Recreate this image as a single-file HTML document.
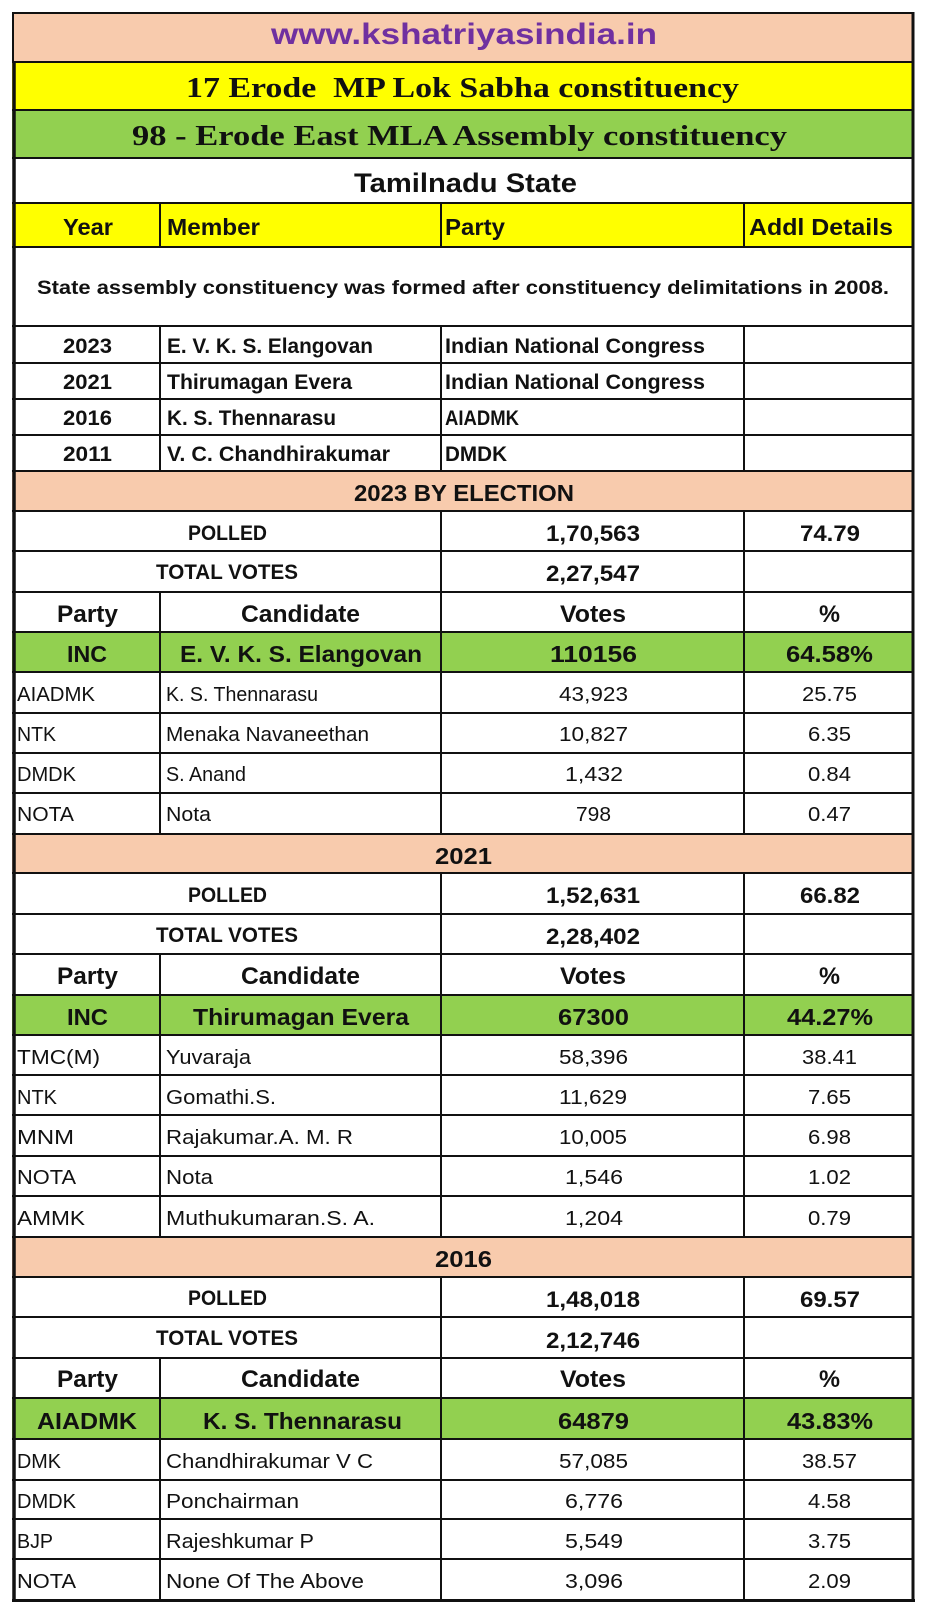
<!DOCTYPE html>
<html><head><meta charset="utf-8"><style>
html,body{margin:0;padding:0;background:#fff;}
svg{display:block;}
text{font-family:"Liberation Sans",Arial,sans-serif;fill:#111;}
.s{font-family:"Liberation Serif","Times New Roman",serif;font-weight:bold;}
.b{font-weight:bold;}
</style></head><body>
<svg width="928" height="1620" viewBox="0 0 928 1620" xmlns="http://www.w3.org/2000/svg">
<rect x="0" y="0" width="928" height="1620" fill="#fff"/>
<!-- fills -->
<rect x="12" y="13" width="901" height="49" fill="#F8CBAD"/>
<rect x="12" y="62" width="901" height="48" fill="#FFFF00"/>
<rect x="12" y="110" width="901" height="48" fill="#92D050"/>
<rect x="12" y="203" width="901" height="44" fill="#FFFF00"/>
<rect x="12" y="471" width="901" height="40" fill="#F8CBAD"/>
<rect x="12" y="632" width="901" height="40" fill="#92D050"/>
<rect x="12" y="834" width="901" height="39" fill="#F8CBAD"/>
<rect x="12" y="995" width="901" height="40" fill="#92D050"/>
<rect x="12" y="1237" width="901" height="40" fill="#F8CBAD"/>
<rect x="12" y="1398" width="901" height="41" fill="#92D050"/>

<!-- horizontal lines -->
<g stroke="#111" stroke-width="2">
<line x1="12" x2="914" y1="13" y2="13"/>
<line x1="12" x2="914" y1="62" y2="62"/>
<line x1="12" x2="914" y1="110" y2="110"/>
<line x1="12" x2="914" y1="158" y2="158"/>
<line x1="12" x2="914" y1="203" y2="203"/>
<line x1="12" x2="914" y1="247" y2="247"/>
<line x1="12" x2="914" y1="326" y2="326"/>
<line x1="12" x2="914" y1="363" y2="363"/>
<line x1="12" x2="914" y1="399" y2="399"/>
<line x1="12" x2="914" y1="435" y2="435"/>
<line x1="12" x2="914" y1="471" y2="471"/>
<line x1="12" x2="914" y1="511" y2="511"/>
<line x1="12" x2="914" y1="551" y2="551"/>
<line x1="12" x2="914" y1="592" y2="592"/>
<line x1="12" x2="914" y1="632" y2="632"/>
<line x1="12" x2="914" y1="672" y2="672"/>
<line x1="12" x2="914" y1="713" y2="713"/>
<line x1="12" x2="914" y1="753" y2="753"/>
<line x1="12" x2="914" y1="793" y2="793"/>
<line x1="12" x2="914" y1="834" y2="834"/>
<line x1="12" x2="914" y1="873" y2="873"/>
<line x1="12" x2="914" y1="914" y2="914"/>
<line x1="12" x2="914" y1="954" y2="954"/>
<line x1="12" x2="914" y1="995" y2="995"/>
<line x1="12" x2="914" y1="1035" y2="1035"/>
<line x1="12" x2="914" y1="1075" y2="1075"/>
<line x1="12" x2="914" y1="1115" y2="1115"/>
<line x1="12" x2="914" y1="1156" y2="1156"/>
<line x1="12" x2="914" y1="1196" y2="1196"/>
<line x1="12" x2="914" y1="1237" y2="1237"/>
<line x1="12" x2="914" y1="1277" y2="1277"/>
<line x1="12" x2="914" y1="1317" y2="1317"/>
<line x1="12" x2="914" y1="1358" y2="1358"/>
<line x1="12" x2="914" y1="1398" y2="1398"/>
<line x1="12" x2="914" y1="1439" y2="1439"/>
<line x1="12" x2="914" y1="1480" y2="1480"/>
<line x1="12" x2="914" y1="1519" y2="1519"/>
<line x1="12" x2="914" y1="1559" y2="1559"/>
</g>
<!-- vertical column lines -->
<g stroke="#111" stroke-width="2">
<line x1="160" x2="160" y1="203" y2="247"/><line x1="441" x2="441" y1="203" y2="247"/><line x1="744" x2="744" y1="203" y2="247"/>
<line x1="160" x2="160" y1="326" y2="471"/><line x1="441" x2="441" y1="326" y2="471"/><line x1="744" x2="744" y1="326" y2="471"/>
<line x1="441" x2="441" y1="511" y2="592"/><line x1="744" x2="744" y1="511" y2="592"/>
<line x1="160" x2="160" y1="592" y2="834"/><line x1="441" x2="441" y1="592" y2="834"/><line x1="744" x2="744" y1="592" y2="834"/>
<line x1="441" x2="441" y1="873" y2="954"/><line x1="744" x2="744" y1="873" y2="954"/>
<line x1="160" x2="160" y1="954" y2="1237"/><line x1="441" x2="441" y1="954" y2="1237"/><line x1="744" x2="744" y1="954" y2="1237"/>
<line x1="441" x2="441" y1="1277" y2="1358"/><line x1="744" x2="744" y1="1277" y2="1358"/>
<line x1="160" x2="160" y1="1358" y2="1601"/><line x1="441" x2="441" y1="1358" y2="1601"/><line x1="744" x2="744" y1="1358" y2="1601"/>
</g>
<!-- outer border -->
<line x1="13" x2="13" y1="12" y2="62" stroke="#111" stroke-width="2"/>
<line x1="14" x2="14" y1="62" y2="1602" stroke="#111" stroke-width="3.5"/>
<line x1="913" x2="913" y1="12" y2="1602" stroke="#111" stroke-width="3"/>
<line x1="12" x2="915" y1="1600.5" y2="1600.5" stroke="#111" stroke-width="3"/>

<!-- titles -->
<text x="271" y="44" font-size="30" class="b" style="fill:#7030A0" textLength="386" lengthAdjust="spacingAndGlyphs">www.kshatriyasindia.in</text>
<text x="186" y="97" font-size="29" class="s" textLength="553" lengthAdjust="spacingAndGlyphs" xml:space="preserve">17 Erode  MP Lok Sabha constituency</text>
<text x="132" y="145" font-size="29" class="s" textLength="655" lengthAdjust="spacingAndGlyphs">98 - Erode East MLA Assembly constituency</text>
<text x="354" y="192" font-size="27" class="b" textLength="223" lengthAdjust="spacingAndGlyphs">Tamilnadu State</text>

<g class="b" font-size="23">
<text x="63" y="235" textLength="50" lengthAdjust="spacingAndGlyphs">Year</text>
<text x="167" y="235" textLength="93" lengthAdjust="spacingAndGlyphs">Member</text>
<text x="445" y="235" textLength="60" lengthAdjust="spacingAndGlyphs">Party</text>
<text x="749" y="235" textLength="144" lengthAdjust="spacingAndGlyphs">Addl Details</text>
</g>

<text x="37" y="294" font-size="19" class="b" textLength="852" lengthAdjust="spacingAndGlyphs">State assembly constituency was formed after constituency delimitations in 2008.</text>

<g class="b" font-size="21">
<text x="63" y="353" textLength="49" lengthAdjust="spacingAndGlyphs">2023</text>
<text x="167" y="353" textLength="206" lengthAdjust="spacingAndGlyphs">E. V. K. S. Elangovan</text>
<text x="445" y="353" textLength="260" lengthAdjust="spacingAndGlyphs">Indian National Congress</text>
<text x="63" y="389" textLength="49" lengthAdjust="spacingAndGlyphs">2021</text>
<text x="167" y="389" textLength="185" lengthAdjust="spacingAndGlyphs">Thirumagan Evera</text>
<text x="445" y="389" textLength="260" lengthAdjust="spacingAndGlyphs">Indian National Congress</text>
<text x="63" y="425" textLength="49" lengthAdjust="spacingAndGlyphs">2016</text>
<text x="167" y="425" textLength="169" lengthAdjust="spacingAndGlyphs">K. S. Thennarasu</text>
<text x="445" y="425" textLength="74" lengthAdjust="spacingAndGlyphs">AIADMK</text>
<text x="63" y="461" textLength="49" lengthAdjust="spacingAndGlyphs">2011</text>
<text x="167" y="461" textLength="223" lengthAdjust="spacingAndGlyphs">V. C. Chandhirakumar</text>
<text x="445" y="461" textLength="62" lengthAdjust="spacingAndGlyphs">DMDK</text>
</g>

<!-- 2023 section -->
<g class="b" font-size="23">
<text x="354" y="501" textLength="220" lengthAdjust="spacingAndGlyphs">2023 BY ELECTION</text>
</g>
<g class="b" font-size="21">
<text x="188" y="540" textLength="79" lengthAdjust="spacingAndGlyphs">POLLED</text>
<text x="156" y="579" textLength="142" lengthAdjust="spacingAndGlyphs">TOTAL VOTES</text>
</g>
<g class="b" font-size="22">
<text x="546" y="541" textLength="94" lengthAdjust="spacingAndGlyphs">1,70,563</text>
<text x="800" y="541" textLength="60" lengthAdjust="spacingAndGlyphs">74.79</text>
<text x="546" y="581" textLength="94" lengthAdjust="spacingAndGlyphs">2,27,547</text>
</g>
<g class="b" font-size="24">
<text x="57" y="622" textLength="61" lengthAdjust="spacingAndGlyphs">Party</text>
<text x="241" y="622" textLength="119" lengthAdjust="spacingAndGlyphs">Candidate</text>
<text x="560" y="622" textLength="66" lengthAdjust="spacingAndGlyphs">Votes</text>
<text x="819" y="622" textLength="21" lengthAdjust="spacingAndGlyphs">%</text>
</g>
<g class="b" font-size="23">
<text x="67" y="662" textLength="40" lengthAdjust="spacingAndGlyphs">INC</text>
<text x="180" y="662" textLength="242" lengthAdjust="spacingAndGlyphs">E. V. K. S. Elangovan</text>
<text x="550" y="662" textLength="87" lengthAdjust="spacingAndGlyphs">110156</text>
<text x="786" y="662" textLength="87" lengthAdjust="spacingAndGlyphs">64.58%</text>
</g>
<g font-size="20">
<text x="17" y="701" textLength="78" lengthAdjust="spacingAndGlyphs">AIADMK</text>
<text x="166" y="701" textLength="152" lengthAdjust="spacingAndGlyphs">K. S. Thennarasu</text>
<text x="559" y="701" textLength="69" lengthAdjust="spacingAndGlyphs">43,923</text>
<text x="802" y="701" textLength="55" lengthAdjust="spacingAndGlyphs">25.75</text>
<text x="17" y="741" textLength="39" lengthAdjust="spacingAndGlyphs">NTK</text>
<text x="166" y="741" textLength="203" lengthAdjust="spacingAndGlyphs">Menaka Navaneethan</text>
<text x="559" y="741" textLength="69" lengthAdjust="spacingAndGlyphs">10,827</text>
<text x="808" y="741" textLength="43" lengthAdjust="spacingAndGlyphs">6.35</text>
<text x="17" y="781" textLength="59" lengthAdjust="spacingAndGlyphs">DMDK</text>
<text x="166" y="781" textLength="80" lengthAdjust="spacingAndGlyphs">S. Anand</text>
<text x="565" y="781" textLength="58" lengthAdjust="spacingAndGlyphs">1,432</text>
<text x="808" y="781" textLength="43" lengthAdjust="spacingAndGlyphs">0.84</text>
<text x="17" y="821" textLength="57" lengthAdjust="spacingAndGlyphs">NOTA</text>
<text x="166" y="821" textLength="45" lengthAdjust="spacingAndGlyphs">Nota</text>
<text x="576" y="821" textLength="35" lengthAdjust="spacingAndGlyphs">798</text>
<text x="808" y="821" textLength="43" lengthAdjust="spacingAndGlyphs">0.47</text>
</g>

<!-- 2021 section -->
<g class="b" font-size="23">
<text x="435" y="864" textLength="57" lengthAdjust="spacingAndGlyphs">2021</text>
</g>
<g class="b" font-size="21">
<text x="188" y="902" textLength="79" lengthAdjust="spacingAndGlyphs">POLLED</text>
<text x="156" y="942" textLength="142" lengthAdjust="spacingAndGlyphs">TOTAL VOTES</text>
</g>
<g class="b" font-size="22">
<text x="546" y="903" textLength="94" lengthAdjust="spacingAndGlyphs">1,52,631</text>
<text x="800" y="903" textLength="60" lengthAdjust="spacingAndGlyphs">66.82</text>
<text x="546" y="944" textLength="94" lengthAdjust="spacingAndGlyphs">2,28,402</text>
</g>
<g class="b" font-size="24">
<text x="57" y="984" textLength="61" lengthAdjust="spacingAndGlyphs">Party</text>
<text x="241" y="984" textLength="119" lengthAdjust="spacingAndGlyphs">Candidate</text>
<text x="560" y="984" textLength="66" lengthAdjust="spacingAndGlyphs">Votes</text>
<text x="819" y="984" textLength="21" lengthAdjust="spacingAndGlyphs">%</text>
</g>
<g class="b" font-size="23">
<text x="67" y="1025" textLength="41" lengthAdjust="spacingAndGlyphs">INC</text>
<text x="193" y="1025" textLength="216" lengthAdjust="spacingAndGlyphs">Thirumagan Evera</text>
<text x="558" y="1025" textLength="71" lengthAdjust="spacingAndGlyphs">67300</text>
<text x="787" y="1025" textLength="86" lengthAdjust="spacingAndGlyphs">44.27%</text>
</g>
<g font-size="20">
<text x="17" y="1064" textLength="83" lengthAdjust="spacingAndGlyphs">TMC(M)</text>
<text x="166" y="1064" textLength="85" lengthAdjust="spacingAndGlyphs">Yuvaraja</text>
<text x="559" y="1064" textLength="69" lengthAdjust="spacingAndGlyphs">58,396</text>
<text x="802" y="1064" textLength="55" lengthAdjust="spacingAndGlyphs">38.41</text>
<text x="17" y="1104" textLength="40" lengthAdjust="spacingAndGlyphs">NTK</text>
<text x="166" y="1104" textLength="110" lengthAdjust="spacingAndGlyphs">Gomathi.S.</text>
<text x="559" y="1104" textLength="68" lengthAdjust="spacingAndGlyphs">11,629</text>
<text x="808" y="1104" textLength="43" lengthAdjust="spacingAndGlyphs">7.65</text>
<text x="17" y="1144" textLength="57" lengthAdjust="spacingAndGlyphs">MNM</text>
<text x="166" y="1144" textLength="187" lengthAdjust="spacingAndGlyphs">Rajakumar.A. M. R</text>
<text x="559" y="1144" textLength="68" lengthAdjust="spacingAndGlyphs">10,005</text>
<text x="808" y="1144" textLength="43" lengthAdjust="spacingAndGlyphs">6.98</text>
<text x="17" y="1184" textLength="59" lengthAdjust="spacingAndGlyphs">NOTA</text>
<text x="166" y="1184" textLength="47" lengthAdjust="spacingAndGlyphs">Nota</text>
<text x="565" y="1184" textLength="58" lengthAdjust="spacingAndGlyphs">1,546</text>
<text x="808" y="1184" textLength="43" lengthAdjust="spacingAndGlyphs">1.02</text>
<text x="17" y="1225" textLength="68" lengthAdjust="spacingAndGlyphs">AMMK</text>
<text x="166" y="1225" textLength="209" lengthAdjust="spacingAndGlyphs">Muthukumaran.S. A.</text>
<text x="565" y="1225" textLength="58" lengthAdjust="spacingAndGlyphs">1,204</text>
<text x="808" y="1225" textLength="43" lengthAdjust="spacingAndGlyphs">0.79</text>
</g>

<!-- 2016 section -->
<g class="b" font-size="23">
<text x="435" y="1267" textLength="57" lengthAdjust="spacingAndGlyphs">2016</text>
</g>
<g class="b" font-size="21">
<text x="188" y="1305" textLength="79" lengthAdjust="spacingAndGlyphs">POLLED</text>
<text x="156" y="1345" textLength="142" lengthAdjust="spacingAndGlyphs">TOTAL VOTES</text>
</g>
<g class="b" font-size="22">
<text x="546" y="1307" textLength="94" lengthAdjust="spacingAndGlyphs">1,48,018</text>
<text x="800" y="1307" textLength="60" lengthAdjust="spacingAndGlyphs">69.57</text>
<text x="546" y="1348" textLength="94" lengthAdjust="spacingAndGlyphs">2,12,746</text>
</g>
<g class="b" font-size="24">
<text x="57" y="1387" textLength="61" lengthAdjust="spacingAndGlyphs">Party</text>
<text x="241" y="1387" textLength="119" lengthAdjust="spacingAndGlyphs">Candidate</text>
<text x="560" y="1387" textLength="66" lengthAdjust="spacingAndGlyphs">Votes</text>
<text x="819" y="1387" textLength="21" lengthAdjust="spacingAndGlyphs">%</text>
</g>
<g class="b" font-size="23">
<text x="37" y="1429" textLength="100" lengthAdjust="spacingAndGlyphs">AIADMK</text>
<text x="203" y="1429" textLength="199" lengthAdjust="spacingAndGlyphs">K. S. Thennarasu</text>
<text x="558" y="1429" textLength="71" lengthAdjust="spacingAndGlyphs">64879</text>
<text x="787" y="1429" textLength="86" lengthAdjust="spacingAndGlyphs">43.83%</text>
</g>
<g font-size="20">
<text x="17" y="1468" textLength="44" lengthAdjust="spacingAndGlyphs">DMK</text>
<text x="166" y="1468" textLength="207" lengthAdjust="spacingAndGlyphs">Chandhirakumar V C</text>
<text x="559" y="1468" textLength="69" lengthAdjust="spacingAndGlyphs">57,085</text>
<text x="802" y="1468" textLength="55" lengthAdjust="spacingAndGlyphs">38.57</text>
<text x="17" y="1508" textLength="59" lengthAdjust="spacingAndGlyphs">DMDK</text>
<text x="166" y="1508" textLength="133" lengthAdjust="spacingAndGlyphs">Ponchairman</text>
<text x="565" y="1508" textLength="58" lengthAdjust="spacingAndGlyphs">6,776</text>
<text x="808" y="1508" textLength="43" lengthAdjust="spacingAndGlyphs">4.58</text>
<text x="17" y="1548" textLength="36" lengthAdjust="spacingAndGlyphs">BJP</text>
<text x="166" y="1548" textLength="148" lengthAdjust="spacingAndGlyphs">Rajeshkumar P</text>
<text x="565" y="1548" textLength="58" lengthAdjust="spacingAndGlyphs">5,549</text>
<text x="808" y="1548" textLength="43" lengthAdjust="spacingAndGlyphs">3.75</text>
<text x="17" y="1588" textLength="59" lengthAdjust="spacingAndGlyphs">NOTA</text>
<text x="166" y="1588" textLength="198" lengthAdjust="spacingAndGlyphs">None Of The Above</text>
<text x="565" y="1588" textLength="58" lengthAdjust="spacingAndGlyphs">3,096</text>
<text x="808" y="1588" textLength="43" lengthAdjust="spacingAndGlyphs">2.09</text>
</g>
</svg>
</body></html>
